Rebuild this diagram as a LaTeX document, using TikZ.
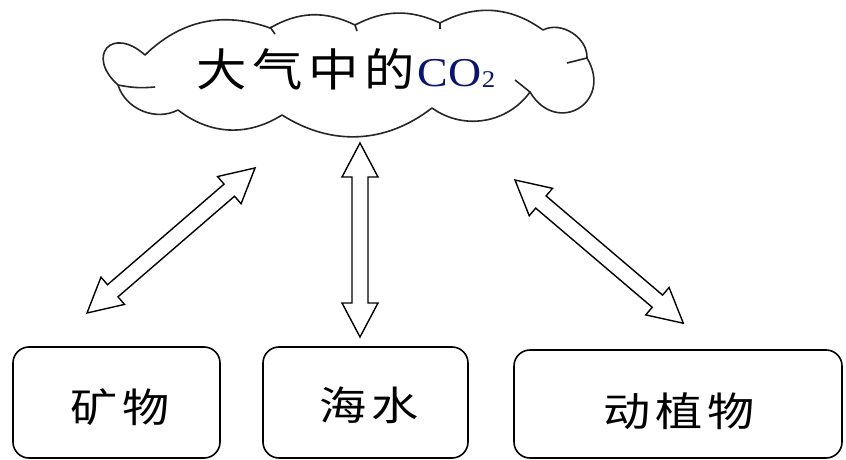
\documentclass[tikz,border=0pt]{standalone}
\usepackage{fontspec}
\setmainfont{Liberation Serif}
\newfontfamily\cjk{Noto Sans CJK SC}
\definecolor{cotwo}{RGB}{10,20,110}
\tikzset{
  cloudline/.style={line width=1.6pt, draw=black!85, fill=white, line join=round},
  boxnode/.style={line width=1.6pt, draw=black, rounded corners=16pt, inner sep=0pt},
  harrow/.style={line width=1.4pt, draw=black, fill=white, line join=miter},
  cjktext/.style={inner sep=0pt, anchor=base, font=\cjk\fontsize{40}{40}\selectfont},
}
\newcommand\HArrow[3]{%
  \draw[harrow, shift={(#1)}, rotate=#2]
    (0,0) -- (34,18) -- (34,8) -- ({#3-34},8) -- ({#3-34},18) -- (#3,0)
    -- ({#3-34},-18) -- ({#3-34},-8) -- (34,-8) -- (34,-18) -- cycle;}
\newcommand\wide[1]{\scalebox{1.18}[1]{#1}}
\begin{document}
\begin{tikzpicture}[x=1pt,y=1pt]
\useasboundingbox (0,0) rectangle (846,-460);
% cloud
\draw[cloudline] (118,-85) to[bend left=90, looseness=2.8] (145,-55)
  to[bend left=32] (270,-28)
  to[bend left=28] (355,-25)
  to[bend left=26] (440,-23)
  to[bend left=32] (543,-30)
  to[bend left=60] (587,-58)
  to[bend left=90, looseness=2.0] (530,-92)
  to[bend left=45] (432,-108)
  to[bend left=35] (282,-115)
  to[bend left=35] (178,-110)
  to[bend left=50] (118,-85) -- cycle;
\draw[cloudline] (118,-85) to[bend right=8] (155,-87);
\draw[cloudline] (530,-92) -- (515,-80);
\draw[cloudline] (587,-58) -- (567,-63);
\draw[cloudline] (270,-27) -- (275,-34);
\draw[cloudline] (355,-25) -- (357,-31);
\draw[cloudline] (440,-23) -- (440,-29);
\coordinate (cloud) at (350,-72);
\node[anchor=base west, inner sep=0pt] (cloudtext) at (196,-87)
  {\scalebox{1.12}[1]{{\cjk\fontsize{45}{45}\selectfont 大\hspace{5pt}气\hspace{5pt}中\hspace{5pt}的}\hspace{3pt}{\color{cotwo}\fontsize{41}{41}\selectfont CO\raisebox{-1pt}{\fontsize{24}{24}\selectfont 2}}}};
% boxes
\node[boxnode, minimum width=207pt, minimum height=111pt] (mineral) at (116.5,-402.5) {};
\node[boxnode, minimum width=205pt, minimum height=111pt] (sea) at (365.5,-402.5) {};
\node[boxnode, minimum width=328pt, minimum height=108pt] (life) at (678,-404) {};
\node[cjktext] (mineraltext) at (120.5,-422) {\wide{矿\hspace{4pt}物}};
\node[cjktext] (seatext) at (369.5,-420) {\wide{海\hspace{4pt}水}};
\node[cjktext] (lifetext) at (679,-426) {\wide{动\hspace{4pt}植\hspace{4pt}物}};
% arrow end points
\coordinate (a1) at (87,-313);
\coordinate (a2) at (360,-337);
\coordinate (a3) at (515,-180);
\HArrow{a1}{40.8}{222}
\HArrow{a2}{90}{194}
\HArrow{a3}{-40.4}{221}
\end{tikzpicture}
\end{document}
